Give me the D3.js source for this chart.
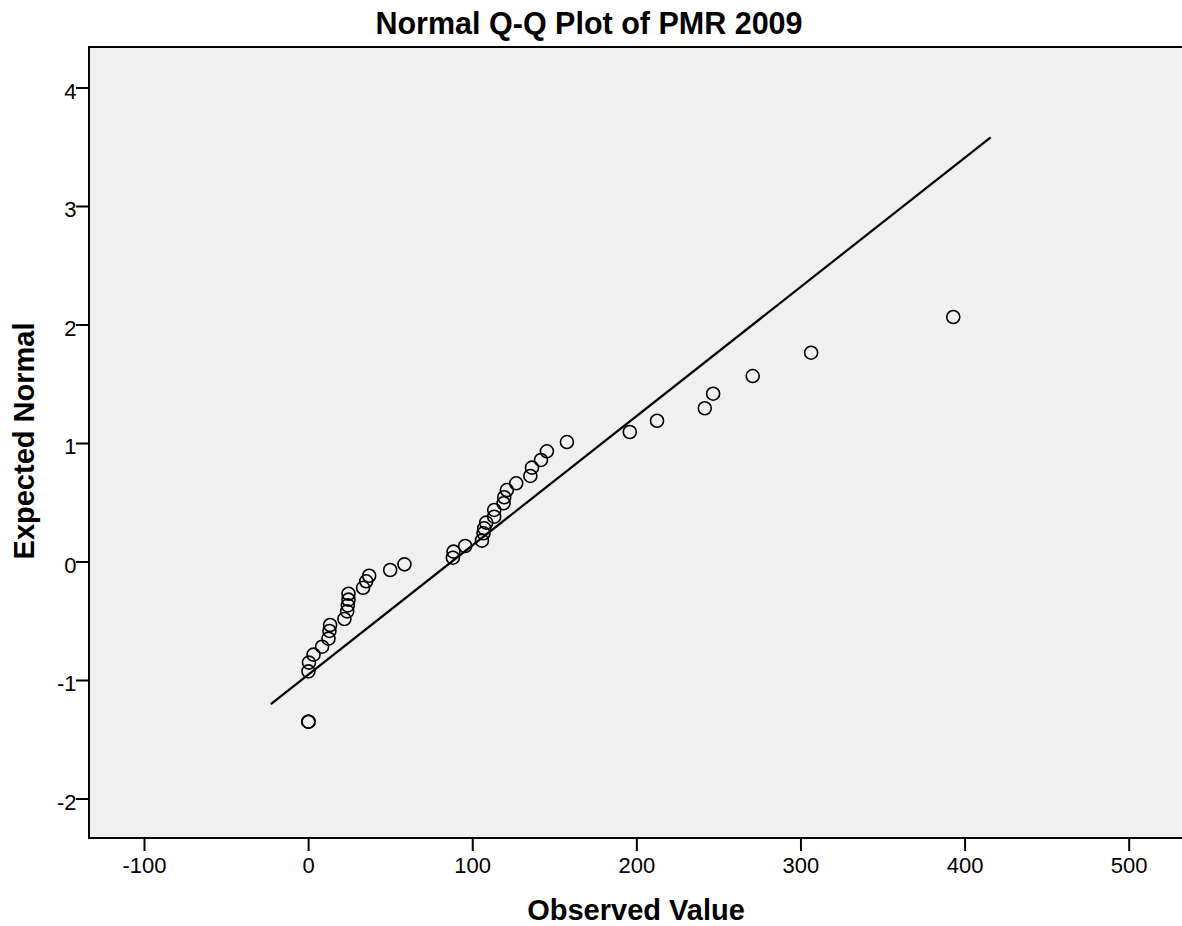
<!DOCTYPE html>
<html>
<head>
<meta charset="utf-8">
<script src="https://d3js.org/d3.v7.min.js"></script>
<style>
  html, body { margin: 0; padding: 0; background: #fff; }
  svg { display: block; }
  text { font-family: "Liberation Sans", Arial, sans-serif; fill: #000; }
</style>
</head>
<body>
<script>
// ---- data ----
const observed = [
  0.2, 0.2, 0.2, 0.2, 0.5, 3.3, 8.5, 12.4, 13.0, 13.4, 22.1, 23.8, 24.2, 24.6, 24.6,
  33.5, 35.4, 37.2, 50.0, 58.7,
  88.2, 88.6, 95.7, 105.9, 106.9, 107.3, 108.5, 113.4, 113.4, 119.1, 119.5, 121.1,
  126.8, 135.4, 136.4, 141.9, 145.5, 157.7,
  196.0, 212.6, 241.7, 246.8, 270.9, 306.5, 393.1
];
const expected = [
  -1.352, -1.352, -1.352, -0.927, -0.853, -0.786, -0.719, -0.651, -0.586, -0.536, -0.485, -0.421, -0.370, -0.322, -0.272,
  -0.222, -0.167, -0.120, -0.072, -0.024,
  0.032, 0.083, 0.131, 0.176, 0.238, 0.280, 0.328, 0.378, 0.435, 0.491, 0.542, 0.603,
  0.660, 0.722, 0.792, 0.857, 0.930, 1.008,
  1.093, 1.188, 1.293, 1.416, 1.565, 1.762, 2.063
];
const lineX = [-22.7, 415.9];
const lineY = [-1.203, 3.58];
const xTicks = [-100, 0, 100, 200, 300, 400, 500];
const yTicks = [-2, -1, 0, 1, 2, 3, 4];
const titleText = "Normal Q-Q Plot of PMR 2009";
const xLabel = "Observed Value";
const yLabel = "Expected Normal";

// ---- layout ----
const W = 1182, H = 926;
const plot = { left: 89, top: 47, right: 1184, bottom: 838 };

const svg = d3.select("body").append("svg").attr("width", W).attr("height", H);

const x = d3.scaleLinear().domain([-100, 500]).range([144, 1128.7]);
const y = d3.scaleLinear().domain([-2, 4]).range([798.5, 87.5]);

// plot background
svg.append("rect")
  .attr("x", plot.left).attr("y", plot.top)
  .attr("width", plot.right - plot.left).attr("height", plot.bottom - plot.top)
  .attr("fill", "#f0f0f0");

// clip
svg.append("clipPath").attr("id", "clip").append("rect")
  .attr("x", plot.left).attr("y", plot.top)
  .attr("width", plot.right - plot.left).attr("height", plot.bottom - plot.top);

const g = svg.append("g").attr("clip-path", "url(#clip)");

// reference line
g.append("line")
  .attr("x1", x(lineX[0])).attr("y1", y(lineY[0]))
  .attr("x2", x(lineX[1])).attr("y2", y(lineY[1]))
  .attr("stroke", "#000").attr("stroke-width", 2.2);

// points
const pts = observed.map((v, i) => ({ x: v, y: expected[i] }));
g.selectAll("circle").data(pts).join("circle")
  .attr("cx", d => x(d.x)).attr("cy", d => y(d.y))
  .attr("r", 6.5)
  .attr("fill", "none").attr("stroke", "#000").attr("stroke-width", 1.6);

// frame lines (top, left, bottom)
svg.append("path")
  .attr("d", `M${W + 2},${plot.top}H${plot.left}V${plot.bottom}H${W + 2}`)
  .attr("fill", "none").attr("stroke", "#000").attr("stroke-width", 2);

const fmt = d => String(d); // hyphen-minus like the reference

// x axis
const xAxis = d3.axisBottom(x).tickValues(xTicks).tickSize(13).tickPadding(7)
  .tickFormat(fmt);
const gx = svg.append("g").attr("transform", `translate(0,${plot.bottom})`).call(xAxis);
gx.select(".domain").remove();
gx.selectAll(".tick line").attr("stroke", "#000").attr("stroke-width", 2);
gx.selectAll(".tick text")
  .style("font-family", '"Liberation Sans", Arial, sans-serif')
  .style("font-size", "22px").attr("fill", "#000")
  .attr("dy", null).attr("y", 35);

// y axis
const yAxis = d3.axisLeft(y).tickValues(yTicks).tickSize(13).tickPadding(0)
  .tickFormat(fmt);
const gy = svg.append("g").attr("transform", `translate(${plot.left},0)`).call(yAxis);
gy.select(".domain").remove();
gy.selectAll(".tick line").attr("stroke", "#000").attr("stroke-width", 2);
gy.selectAll(".tick text")
  .style("font-family", '"Liberation Sans", Arial, sans-serif')
  .style("font-size", "22px").attr("fill", "#000")
  .attr("x", -12.5).attr("dy", null).attr("y", 10.5);

// title
svg.append("text")
  .attr("x", 589).attr("y", 34)
  .attr("text-anchor", "middle")
  .style("font-size", "30.5px").style("font-weight", "bold")
  .text(titleText);

// x label
svg.append("text")
  .attr("x", 636).attr("y", 920)
  .attr("text-anchor", "middle")
  .style("font-size", "29px").style("font-weight", "bold")
  .text(xLabel);

// y label
svg.append("text")
  .attr("transform", `translate(33.5,441) rotate(-90)`)
  .attr("text-anchor", "middle")
  .style("font-size", "29px").style("font-weight", "bold")
  .text(yLabel);
</script>
</body>
</html>
